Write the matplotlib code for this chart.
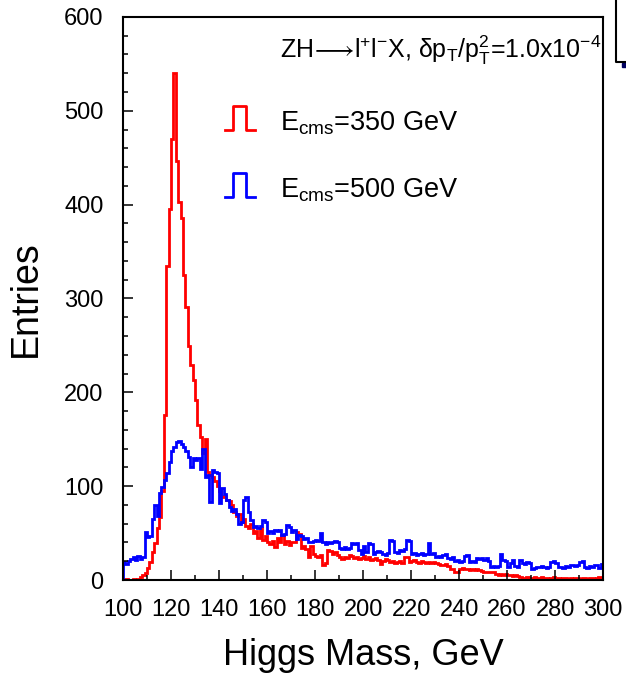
import numpy as np
import matplotlib
matplotlib.use('Agg')
import matplotlib.pyplot as plt
from matplotlib.lines import Line2D
from matplotlib.patches import Rectangle
from matplotlib.ticker import MultipleLocator

plt.rcParams['font.family'] = ['Liberation Sans', 'DejaVu Sans']
plt.rcParams['mathtext.fontset'] = 'custom'
plt.rcParams['mathtext.rm'] = 'Liberation Sans'
plt.rcParams['mathtext.it'] = 'Liberation Sans:italic'
plt.rcParams['mathtext.bf'] = 'Liberation Sans:bold'
plt.rcParams['mathtext.fallback'] = 'stixsans'

# recoil mass histograms, 1 GeV bins from 100 to 300 GeV
bin_edges = np.arange(100, 301, 1)

entries_350 = [
    0, 1, 0, 0, 1, 0, 1, 3, 5, 7,
    13, 19, 30, 39, 55, 67, 95, 176, 335, 395,
    470, 540, 446, 403, 386, 325, 291, 249, 229, 213,
    192, 165, 152, 135, 150, 115, 112, 110, 106, 100,
    95, 88, 90, 85, 84, 80, 72, 68, 70, 62,
    65, 58, 55, 60, 50, 52, 45, 55, 43, 47,
    40, 38, 42, 35, 45, 40, 48, 38, 42, 37,
    41, 40, 51, 49, 34, 36, 33, 25, 36, 28,
    26, 25, 27, 16, 18, 32, 31, 28, 30, 27,
    24, 22, 25, 23, 27, 26, 23, 24, 22, 23,
    26, 22, 24, 21, 22, 23, 21, 17, 20, 22,
    21, 19, 20, 18, 19, 20, 18, 25, 24, 19,
    20, 21, 19, 18, 20, 19, 18, 19, 18, 19,
    18, 17, 16, 16, 17, 15, 12, 12, 9, 9,
    12, 13, 12, 12, 11, 12, 11, 12, 11, 10,
    9, 9, 9, 8, 9, 6, 5, 6, 5, 6,
    5, 5, 4, 5, 4, 3, 2, 2, 3, 2,
    2, 3, 2, 2, 3, 2, 2, 1, 2, 3,
    2, 2, 1, 2, 2, 1, 2, 1, 2, 2,
    1, 2, 2, 1, 2, 2, 1, 2, 3, 2,
]

entries_500 = [
    19, 17, 20, 22, 24, 21, 26, 22, 25, 51,
    46, 47, 65, 80, 68, 93, 99, 107, 114, 126,
    137, 142, 147, 148, 145, 142, 137, 131, 120, 130,
    128, 130, 118, 140, 110, 112, 83, 117, 115, 114,
    82, 98, 92, 85, 78, 74, 76, 70, 60, 62,
    85, 88, 72, 64, 57, 58, 55, 58, 64, 62,
    50, 52, 50, 53, 52, 53, 48, 49, 59, 57,
    51, 53, 44, 48, 47, 44, 45, 41, 40, 42,
    43, 42, 50, 41, 38, 40, 39, 41, 42, 40,
    34, 33, 35, 33, 34, 39, 38, 39, 32, 28,
    36, 30, 39, 38, 28, 30, 31, 30, 28, 27,
    29, 43, 42, 30, 29, 32, 31, 33, 43, 42,
    28, 29, 27, 28, 29, 27, 28, 39, 28, 29,
    25, 26, 24, 27, 28, 23, 22, 24, 20, 21,
    19, 20, 26, 27, 19, 20, 19, 23, 22, 23,
    21, 23, 20, 14, 15, 14, 15, 28, 21, 20,
    14, 18, 21, 15, 14, 21, 18, 17, 19, 18,
    12, 13, 14, 14, 15, 14, 13, 14, 19, 20,
    18, 14, 14, 13, 15, 14, 16, 16, 15, 16,
    19, 20, 14, 13, 15, 14, 16, 16, 13, 17,
]

series_labels = [r'E$_{\rm cms}$=350 GeV', r'E$_{\rm cms}$=500 GeV']
series_colors = ['#ff0000', '#0000ff']
title_text = (u'ZH$\\!\\longrightarrow\\!$l$^{+}$l$^{-}$X, '
              u'\u03b4p$_{\\rm T}$/p$_{\\rm T}^{2}$=1.0x10$^{-4}$')

fig = plt.figure(figsize=(6.26, 6.76), dpi=100)
ax = fig.add_axes([0.1965, 0.142, 0.767, 0.833])

for vals, col in zip([entries_350, entries_500], series_colors):
    ax.stairs(vals, bin_edges, color=col, lw=2.0)

ax.set_xlim(100, 300)
ax.set_ylim(0, 600)
ax.xaxis.set_major_locator(MultipleLocator(20))
ax.xaxis.set_minor_locator(MultipleLocator(10))
ax.yaxis.set_major_locator(MultipleLocator(100))
ax.yaxis.set_minor_locator(MultipleLocator(20))
ax.tick_params(which='both', direction='in', top=False, right=False,
               width=1.1, labelsize=17, pad=14)
ax.tick_params(which='major', length=7)
ax.tick_params(which='minor', length=3.6)
for s in ax.spines.values():
    s.set_linewidth(1.5)

ax.set_xlabel('Higgs Mass, GeV', fontsize=26)
ax.set_ylabel('Entries', fontsize=27)
ax.xaxis.set_label_coords(0.5, -0.103)
ax.yaxis.set_label_coords(-0.165, 0.5)

ax.text(0.327, 0.94, title_text, transform=ax.transAxes, fontsize=18,
        ha='left', va='center')

# legend: pulse-shaped glyph + label
glyph_x = np.array([0.0, 0.27, 0.27, 0.7, 0.7, 1.0])
glyph_y = np.array([0, 0, 1, 1, 0, 0])
for (lab, col, ybase) in zip(series_labels, series_colors, [0.799, 0.680]):
    gx = 0.2125 + glyph_x * 0.0625
    gy = ybase + glyph_y * 0.042
    ax.add_line(Line2D(gx, gy, color=col, lw=2.0, transform=ax.transAxes,
                       clip_on=False))
    ax.text(0.327, ybase, lab, transform=ax.transAxes, fontsize=19.5,
            ha='left', va='baseline', color='black')

# edge of the neighbouring pad
fig.add_artist(Line2D([0.984, 0.984, 1.0], [1.0, 0.908, 0.908],
                      color='black', lw=1.5, transform=fig.transFigure))
fig.add_artist(Rectangle((0.9935, 0.9005), 0.0065, 0.007, color='#000060',
                         transform=fig.transFigure))

fig.savefig('out.png', dpi=100)
